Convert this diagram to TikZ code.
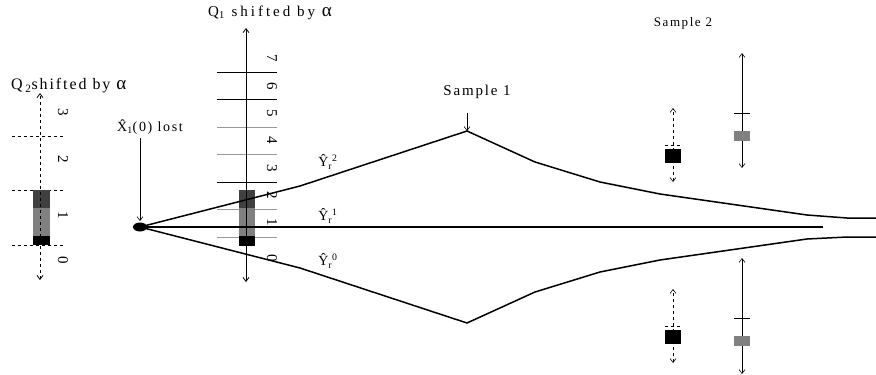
\documentclass[tikz,border=0pt]{standalone}
\usepackage{fontspec}
\setmainfont{Liberation Serif}[LetterSpace=12]
\usetikzlibrary{arrows.meta}
\definecolor{darkbar}{gray}{0.25}
\definecolor{midbar}{gray}{0.5}
\definecolor{gridgray}{gray}{0.6}
\tikzset{
  curve/.style={line width=1.5pt},
  axis/.style={line width=0.8pt, <->},
  tick/.style={line width=0.6pt},
  digit/.style={rotate=-90, inner sep=0pt, font=\fontsize{15}{15}\selectfont},
  lbl/.style={inner sep=0pt, font=\fontsize{14}{15}\selectfont},
  qlbl/.style={inner sep=0pt, anchor=west, font=\fontsize{15}{16}\selectfont\addfontfeatures{LetterSpace=20}},
}
\newcommand{\yhat}[1]{Ŷ\textsubscript{r}\textsuperscript{#1}}
\newcommand{\bigalpha}{{\fontsize{19}{19}\selectfont α}}
\begin{document}
\begin{tikzpicture}[x=1pt, y=-1pt, >={Straight Barb[length=4pt,width=6pt]}]
        \useasboundingbox (0,0) rectangle (876,375);
        % Q2 column
        \coordinate (q2top) at (40,93);
        \coordinate (q2bot) at (40,280);
        \foreach \y in {136,190,245} \draw[dashed, tick] (12,\y) -- (65,\y);
        \fill[black] (33,236) rectangle (50,245);
        \fill[midbar] (33,208) rectangle (50,236);
        \fill[darkbar] (33,190) rectangle (50,208);
        \draw[axis, dashed] (q2bot) -- (q2top);
        \foreach \d/\y in {0/260, 1/215, 2/159, 3/112} \node[digit] (q2d\d) at (63,\y) {\d};
        \node[qlbl, font=\fontsize{16}{16}\selectfont] (q2lbl) at (11,86) {Q\,\textsubscript{2}shifted by \bigalpha};
        % Q1 column
        \coordinate (q1top) at (246,28);
        \coordinate (q1bot) at (246,282);
        \foreach \y/\c in {72/black, 99/black, 127/gridgray, 154/gridgray, 182/black, 209/gridgray, 237/gridgray}
            \draw[tick, \c] (217,\y) -- (277,\y);
        \foreach \d/\y in {0/258, 1/222, 2/195, 3/168, 4/140, 5/113, 6/86, 7/58} \node[digit] (q1d\d) at (272,\y) {\d};
        \fill[black] (239,236) rectangle (255,246);
        \fill[midbar] (239,208) rectangle (255,236);
        \fill[darkbar] (239,190) rectangle (255,208);
        \draw[axis] (q1bot) -- (q1top);
        \node[qlbl] (q1lbl) at (208,13) {Q\textsubscript{1} shifted by \bigalpha};
        % start point
        \coordinate (x0) at (140,227);
        \coordinate (x0top) at (140,221);
        \fill (x0) ellipse [x radius=7, y radius=4.5];
        \node[lbl, anchor=west] (lost) at (117,127) {\^{X}\textsubscript{1}(0) lost};
        \draw[->, tick] (lost.south -| x0) ++(0,3) -- (x0top);
        % the three paths
        \coordinate (top) at (467,131);
        \coordinate (bot) at (467,323);
        \coordinate (mid) at (823,227);
        \draw[curve] (x0) -- (300,186) -- (top) -- (535,162) -- (600,182) -- (660,194) -- (723,203) -- (807,215) -- (847,218) -- (876,218);
        \draw[curve] (x0) -- (300,268) -- (bot) -- (535,292) -- (600,272) -- (660,260) -- (723,251) -- (807,239) -- (847,237) -- (876,237);
        \draw[curve] (x0) -- (mid);
        \node[lbl, font=\fontsize{14}{14}\selectfont] (y2) at (328,162) {\yhat{2}};
        \node[lbl, font=\fontsize{14}{14}\selectfont] (y1) at (328,216) {\yhat{1}};
        \node[lbl, font=\fontsize{14}{14}\selectfont] (y0) at (328,261) {\yhat{0}};
        % samples
        \node[lbl, font=\fontsize{15}{15}\selectfont] (s1) at (477,92) {Sample 1};
        \draw[->, tick] (467,113) -- (top);
        \node[lbl, font=\fontsize{13}{13}\selectfont] (s2) at (683,23) {Sample 2};
        \foreach \o in {0,181} {
            \draw[<->, tick, dashed] (673,{182+\o}) -- (673,{108+\o});
            \draw[tick, dashed] (665,{145+\o}) -- (681,{145+\o});
            \fill[black] (665,{149+\o}) rectangle (681,{163+\o});
        }
        \foreach \o/\l in {0/115, 205/116} {
            \draw[<->, tick] (742,{53+\o+\l}) -- (742,{53+\o});
            \draw[tick] (734,{113+\o}) -- (750,{113+\o});
            \fill[midbar] (734,{131+\o}) rectangle (750,{141+\o});
        }
    \end{tikzpicture}
\end{document}
